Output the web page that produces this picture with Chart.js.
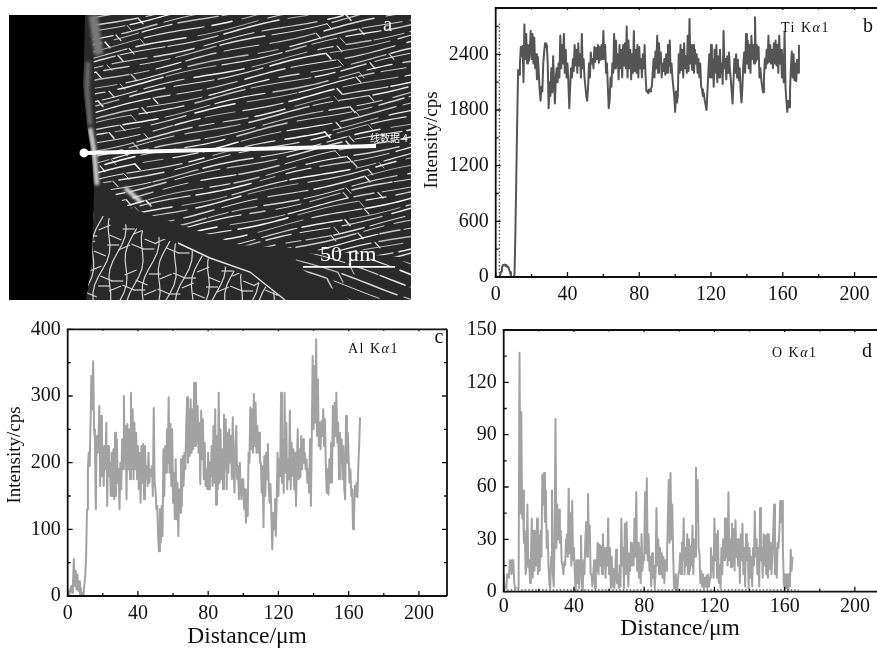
<!DOCTYPE html>
<html>
<head>
<meta charset="utf-8">
<style>
html,body{margin:0;padding:0;background:#fff;width:877px;height:651px;overflow:hidden}
.p{position:absolute}
canvas{display:block}
</style>
<script src="https://cdn.jsdelivr.net/npm/chart.js@4/dist/chart.umd.js"></script>
</head>
<body>
<div class="p" style="left:0;top:0;width:415px;height:310px"><canvas id="ca" width="415" height="310"></canvas></div>
<div class="p" style="left:420px;top:0;width:457px;height:310px"><canvas id="cb" width="457" height="310"></canvas></div>
<div class="p" style="left:0;top:310px;width:450px;height:341px"><canvas id="cc" width="450" height="341"></canvas></div>
<div class="p" style="left:450px;top:310px;width:427px;height:341px"><canvas id="cd" width="427" height="341"></canvas></div>
<script>
// ---------- data (sample step 0.5 um) ----------
const sampleStep = 0.5;
const tiValues = [
0,0,0,0,0,20,60,100,130,125,135,120,130,105,110,80,50,10,0,0,
0,30,500,1100,1700,2230,2180,2300,2480,2380,2490,2100,2720,2350,2620,2300,2500,2330,2450,2650,
2350,2620,2300,2580,2250,2400,2130,2370,2200,2010,1900,2050,2000,2300,2420,2520,2480,2500,2300,1820,
2100,1950,2250,1990,2380,2100,1870,2150,2250,2100,2300,2150,2600,2250,2500,2300,2620,2200,2450,2150,
2300,2100,1820,2050,2250,2150,2350,2220,2500,2280,2450,2200,2520,2280,2400,2150,2620,2250,2350,2150,
2050,1950,1900,2050,2300,2150,2420,2300,2350,2250,2480,2320,2470,2350,2500,2310,2480,2340,2500,2350,
2650,2350,2500,2200,2300,2050,1820,1900,2150,2050,2300,2200,2620,2250,2550,2280,2400,2130,2500,2250,
2450,2150,2500,2280,2520,2250,2700,2150,2550,2250,2450,2130,2400,2200,2650,2220,2450,2200,2500,2150,
2480,2250,2350,2150,2400,2250,2500,2180,2000,2010,1980,2020,2000,2030,2050,2200,2350,2150,2430,2250,
2600,2200,2520,2300,2420,2150,2300,2220,2350,2180,2400,2200,2500,2280,2550,2200,2300,2150,2050,1950,
1780,2000,1880,1950,2400,2200,2500,2230,2450,2150,2520,2250,2380,2200,2600,2220,2780,2300,2500,2230,
2500,2200,2450,2300,2400,2200,2350,2150,2300,2050,2020,1950,1980,1900,1850,1800,2000,2200,2400,2150,
2500,2150,2350,2050,2450,2200,2500,2100,2380,2150,2450,2200,2300,2080,2650,2250,2350,2130,2380,2200,
2420,2250,2130,2000,1870,2100,2350,2200,2400,2150,2340,2120,2250,2000,1880,2050,2300,2420,2200,2620,
2300,2550,2250,2500,2200,2600,2350,2500,2300,2800,2320,2500,2350,2480,2150,2250,2130,2050,1990,2150,
2350,2250,2450,2300,2600,2320,2500,2300,2450,2250,2520,2300,2550,2280,2500,2200,2600,2300,2450,2150,
2400,2100,2640,2050,1900,1780,1900,1830,2000,2250,2430,2150,2400,2120,2300,2110,2340,2200,2500
];
const alValues = [
5,8,3,10,15,5,20,55,15,38,10,32,8,22,3,12,0,4,2,18,
30,60,130,190,215,195,260,330,280,352,250,235,130,240,215,235,285,165,270,180,
225,165,225,190,260,135,225,180,200,150,215,150,220,145,245,150,235,170,190,130,
200,160,235,190,300,200,255,145,258,190,250,175,305,190,280,175,260,190,245,175,
225,160,215,140,225,170,228,145,225,175,195,165,215,170,190,180,195,150,282,170,
160,130,135,90,67,130,80,135,90,220,150,225,185,250,200,298,185,258,165,250,
140,185,115,205,115,170,90,160,125,205,135,210,165,215,190,255,298,200,280,210,
295,215,280,220,320,225,320,230,285,215,260,168,278,205,265,175,230,165,190,160,
215,160,200,180,225,165,255,170,280,137,240,160,305,170,250,175,220,160,272,190,
265,160,245,185,250,200,240,175,268,190,155,225,255,175,195,145,200,160,145,175,
175,130,160,110,150,120,215,200,283,220,280,215,303,225,290,215,255,215,245,200,
200,155,195,103,210,150,215,175,228,160,140,168,120,70,125,100,145,90,140,215,
150,205,180,305,170,235,155,305,185,260,160,205,175,278,160,230,180,220,160,215,
135,195,250,175,220,178,240,190,235,200,215,190,205,170,190,155,235,135,240,360,
250,345,260,385,240,325,225,260,220,262,240,280,225,265,195,155,190,152,205,170,
230,170,285,225,290,240,305,230,260,175,245,200,235,175,225,160,145,270,200,245,
205,170,190,150,160,100,115,165,150,170,148,195,228,268
];
const oValues = [
10,2,2,2,10,10,8,18,18,10,18,18,5,2,2,2,2,2,137,45,
103,42,58,28,35,10,18,50,14,18,5,18,42,8,35,12,35,15,42,10,
32,12,35,20,67,50,68,40,58,25,35,15,5,2,20,58,10,3,30,99,
25,50,30,47,28,35,17,15,10,17,15,30,33,20,59,22,45,15,52,18,
25,10,0,18,5,18,2,18,32,5,0,18,10,30,40,20,56,28,38,10,
10,3,10,18,2,18,12,28,10,27,15,26,10,33,15,25,8,25,15,42,
10,25,2,20,3,13,2,10,24,5,10,2,15,3,42,15,25,2,39,10,
40,15,3,22,12,28,15,27,15,42,20,57,12,28,8,25,5,33,12,20,
18,57,22,65,18,33,12,20,3,22,8,15,2,12,48,15,30,10,25,10,
22,8,20,5,18,12,20,42,64,28,68,30,50,22,2,3,10,0,2,10,
12,22,10,28,18,42,10,25,15,33,10,30,12,26,15,38,10,30,20,71,
40,64,25,22,5,12,3,10,2,8,3,9,2,10,3,8,25,12,20,8,
42,18,33,8,35,5,15,2,25,10,30,18,42,20,42,15,57,18,30,14,
39,15,36,12,41,20,30,15,30,5,33,18,39,10,25,3,33,18,28,2,
25,8,20,3,25,15,46,20,30,10,25,3,48,18,25,8,33,15,32,10,
33,8,33,13,28,10,20,35,50,10,25,8,28,25,35,52,40,52,25,5,
2,10,2,10,0,10,3,24,12,20
];
const distanceTicks = [0,40,80,120,160,200];
const distanceMinor = [20,60,100,140,180];
const tiTicks = [0,600,1200,1800,2400];
const tiMinor = [300,900,1500,2100,2700];
const alTicks = [0,100,200,300,400];
const alMinor = [50,150,250,350];
const oTicks = [0,30,60,90,120,150];
const oMinor = [15,45,75,105,135];
const tiDottedX = [2,2];
const tiDottedY = [0,2750];
const oDottedX = [0,168];
const oDottedY = [1,1];
const probeX = [18.66,91.3];
const probeY = [51.6,54];
const scaleBarX = [73.1,96];
const scaleBarY = [11.6,11.6];

const SERIF = '"Liberation Serif","Times New Roman",serif';
const pts = (xs,ys)=>xs.map((x,i)=>({x,y:ys[i]}));
const seq = v=>v.map((y,i)=>({x:i*sampleStep,y}));

function panelPlugin(c){
  return {
    id:'panel'+c.letter,
    afterDatasetsDraw(chart){
      const {ctx,chartArea:a,scales:{x,y}}=chart;
      ctx.save();
      ctx.strokeStyle='#111'; ctx.lineWidth=1.8; ctx.lineCap='butt';
      ctx.beginPath();
      ctx.moveTo(a.left,a.top); ctx.lineTo(a.left,a.bottom);
      ctx.moveTo(a.left-1,a.bottom); ctx.lineTo(a.right,a.bottom);
      ctx.moveTo(a.left-1,a.top); ctx.lineTo(a.right,a.top);
      if(c.rightEdge){ctx.moveTo(a.right,a.top); ctx.lineTo(a.right,a.bottom);}
      ctx.stroke();
      ctx.lineWidth=1.3; ctx.beginPath();
      const vt=(v,len,top)=>{const p=x.getPixelForValue(v);ctx.moveTo(p,a.bottom);ctx.lineTo(p,a.bottom-len);ctx.moveTo(p,a.top);ctx.lineTo(p,a.top+top);};
      const ht=(v,len)=>{const p=y.getPixelForValue(v);ctx.moveTo(a.left,p);ctx.lineTo(a.left+len,p);if(c.rightEdge){ctx.moveTo(a.right,p);ctx.lineTo(a.right-len,p);}};
      distanceTicks.forEach(v=>vt(v,5,2)); distanceMinor.forEach(v=>vt(v,3,1.5));
      c.yTicks.forEach(v=>ht(v,5)); c.yMinor.forEach(v=>ht(v,3));
      ctx.stroke();
      // element label
      ctx.fillStyle='#111'; ctx.textBaseline='middle'; ctx.textAlign='left';
      ctx.letterSpacing='1.5px';
      let tx=c.labelX;
      c.runs.forEach(([s,it])=>{ctx.font=(it?'italic ':'')+'14px '+SERIF;ctx.fillText(s,tx,c.labelY);tx+=ctx.measureText(s).width;});
      ctx.letterSpacing='0px';
      ctx.font='20px '+SERIF; ctx.textAlign='center';
      ctx.fillText(c.letter,c.letterX,c.letterY);
      // axis titles
      if(c.xTitleAt){
        ctx.font='23.5px '+SERIF;
        ctx.fillText('Distance/\u03bcm',c.xTitleAt[0],c.xTitleAt[1]);
      }
      if(c.yTitleAt){
        ctx.translate(c.yTitleAt[0],c.yTitleAt[1]);ctx.rotate(-Math.PI/2);
        ctx.font='19px '+SERIF;
        ctx.fillText('Intensity/cps',0,0);
      }
      ctx.restore();
    }
  };
}

function lineChart(id,c){
  const datasets=[];
  if(c.dotted) datasets.push({data:pts(c.dotted[0],c.dotted[1]),borderColor:'#222',borderWidth:1,borderDash:[1.5,2],pointRadius:0});
  datasets.push({data:seq(c.values),borderColor:c.color,borderWidth:c.width,pointRadius:0,tension:0,borderJoinStyle:'round'});
  const tickFont={family:SERIF,size:20};
  return new Chart(document.getElementById(id),{
    type:'line',
    data:{datasets},
    plugins:[panelPlugin(c)],
    options:{
      responsive:false,animation:false,normalized:true,
      layout:{autoPadding:false,padding:c.padding},
      plugins:{legend:{display:false},tooltip:{enabled:false},title:{display:false}},
      scales:{
        x:{type:'linear',min:0,max:c.xMax,
          grid:{display:false,drawTicks:false},border:{display:false},
          afterBuildTicks:s=>{s.ticks=distanceTicks.map(value=>({value}));},
          ticks:{autoSkip:false,maxRotation:0,color:'#111',font:tickFont,padding:c.xPad,callback:v=>String(v)},
          afterFit:s=>{s.height=c.axisH;s.paddingLeft=0;s.paddingRight=0;}},
        y:{type:'linear',min:0,max:c.yMax,
          grid:{display:false,drawTicks:false},border:{display:false},
          afterBuildTicks:s=>{s.ticks=c.yTicks.map(value=>({value}));},
          ticks:{autoSkip:false,color:'#111',font:tickFont,padding:7,callback:v=>String(v)},
          afterFit:s=>{s.width=c.axisW;s.paddingTop=0;s.paddingBottom=0;}}
      }
    }
  });
}

// texture of the micrograph (no chart data here)
const micrographPlugin={
  id:'micrograph',
  beforeDatasetsDraw(chart){
    const {ctx,chartArea:a}=chart;
    ctx.save();
    ctx.beginPath();ctx.rect(a.left,a.top,a.right-a.left,a.bottom-a.top);ctx.clip();
    ctx.fillStyle='#2a2a2a';ctx.fillRect(a.left,a.top,a.right-a.left,a.bottom-a.top);
    const poly=p=>{ctx.beginPath();p.forEach((q,i)=>i?ctx.lineTo(q[0],q[1]):ctx.moveTo(q[0],q[1]));ctx.closePath();};
    const grain=(p,x0,slope,dy,k0,k1)=>{
      ctx.save();poly(p);ctx.clip();
      ctx.lineCap='round';
      for(let k=k0;k<k1;k++){
        const yb=15+k*dy+((k*7)%5-2)*0.5;
        let xs=x0+((k*29)%31)-20, j=0;
        while(xs<a.right){
          const len=18+((k*37+j*53)%46), gap=2+((k*11+j*17)%8);
          const lum=185+((k*13+j*29)%71);
          ctx.strokeStyle=`rgb(${lum},${lum},${lum})`;
          ctx.lineWidth=0.9+((k+j)%3)*0.3;
          const yAt=X=>yb+slope*(X-x0)+1.5*Math.sin(X/23+k*0.7);
          ctx.beginPath();
          for(let t=0;t<=len;t+=5){
            const X=xs+t;
            t?ctx.lineTo(X,yAt(X)):ctx.moveTo(X,yAt(X));
          }
          ctx.stroke();
          if((k*5+j*3)%5===0){ // bridge between neighbouring plates
            const X=xs+len;
            ctx.beginPath();ctx.moveTo(X,yAt(X));ctx.lineTo(X+5,yAt(X)+dy*0.9);ctx.stroke();
          }
          xs+=len+gap;j++;
        }
      }
      ctx.restore();
    };
    ctx.filter='blur(0.45px)';
    grain([[92,15],[411,15],[411,258],[290,248],[240,245],[190,228],[130,208],[98,178]],85,-0.22,6.2,0,68);
    grain([[292,252],[411,262],[411,300],[350,300],[300,268]],290,0.33,11,18,28);
    // cellular region at lower left
    ctx.save();
    poly([[92,212],[120,222],[180,245],[262,284],[285,300],[85,300]]);ctx.clip();
    ctx.strokeStyle='rgb(215,215,215)';ctx.lineWidth=1.2;
    for(let i=0;i<18;i++){
      const bx=92+i*12;
      ctx.beginPath();
      for(let t=0;t<=100;t+=8){
        const X=bx-t*0.22+4*Math.sin(t/11+i*1.7),Y=205+t;
        t?ctx.lineTo(X,Y):ctx.moveTo(X,Y);
      }
      ctx.stroke();
      for(let m=0;m<6;m++){
        if((i*3+m*5)%3===0) continue;
        const Y=215+m*14+((i*5+m*7)%11),X=bx-(Y-205)*0.22;
        ctx.beginPath();ctx.moveTo(X,Y);ctx.lineTo(X+12,Y+5-((i+m)%3)*5);ctx.stroke();
      }
    }
    ctx.restore();
    // bright edge of the dark band
    ctx.strokeStyle='rgb(230,230,230)';ctx.lineWidth=1.4;
    ctx.beginPath();ctx.moveTo(178,243);ctx.lineTo(210,258);ctx.lineTo(250,272);ctx.lineTo(285,300);ctx.stroke();
    // sample edge: black side, grey rim
    ctx.filter='blur(1.5px)';
    ctx.strokeStyle='rgb(120,120,120)';ctx.lineWidth=9;
    ctx.beginPath();ctx.moveTo(93,15);ctx.lineTo(99,55);ctx.stroke();
    ctx.strokeStyle='rgb(105,105,105)';ctx.lineWidth=5;
    ctx.beginPath();ctx.moveTo(88,62);ctx.lineTo(87,90);ctx.lineTo(90,125);ctx.stroke();
    ctx.strokeStyle='rgb(215,215,215)';ctx.lineWidth=4.5;
    ctx.beginPath();ctx.moveTo(90,128);ctx.lineTo(94,150);ctx.lineTo(97,185);ctx.stroke();
    ctx.strokeStyle='rgb(235,235,235)';ctx.lineWidth=4;
    ctx.beginPath();ctx.moveTo(125,188);ctx.lineTo(141,202);ctx.stroke();
    ctx.filter='none';
    ctx.fillStyle='#000';
    poly([[9,15],[85,15],[84,60],[83,85],[87,125],[92,160],[94,190],[93,230],[92,260],[86,300],[9,300]]);ctx.fill();
    ctx.restore();
  },
  afterDatasetsDraw(chart){
    const {ctx}=chart;
    ctx.save();
    ctx.textBaseline='middle';ctx.textAlign='left';
    ctx.fillStyle='#fff';
    ctx.font='10px "Noto Sans CJK SC"';ctx.fillText('\u7ebf\u6570\u636e 4',370,138);
    ctx.font='22px '+SERIF;ctx.fillText('50 \u03bcm',320,255);
    ctx.font='21px '+SERIF;ctx.fillStyle='#eee';ctx.fillText('a',383,25);
    ctx.restore();
  }
};

new Chart(document.getElementById('ca'),{
  type:'line',
  data:{datasets:[
    {data:pts(probeX,probeY),borderColor:'#fff',borderWidth:4,pointRadius:[4.5,0],pointBackgroundColor:'#fff',pointBorderWidth:0},
    {data:pts(scaleBarX,scaleBarY),borderColor:'#fff',borderWidth:1.8,pointRadius:0}
  ]},
  plugins:[micrographPlugin],
  options:{responsive:false,animation:false,
    layout:{autoPadding:false,padding:{left:9,top:15,right:4,bottom:10}},
    plugins:{legend:{display:false},tooltip:{enabled:false}},
    scales:{x:{type:'linear',display:false,min:0,max:100},y:{type:'linear',display:false,min:0,max:100}}
  }
});

lineChart('cb',{letter:'b',values:tiValues,color:'#555',width:2,yTicks:tiTicks,yMinor:tiMinor,
  dotted:[tiDottedX,tiDottedY],xMax:212.5,yMax:2899,axisW:75.7,axisH:30,xPad:6,
  yTitleAt:[12,140],
  padding:{left:0,top:8,right:0,bottom:3},runs:[['Ti K',0],['\u03b1',1],['1',0]],labelX:361,labelY:28,letterX:448,letterY:27});
lineChart('cc',{letter:'c',values:alValues,color:'#a2a2a2',width:2,yTicks:alTicks,yMinor:alMinor,rightEdge:true,
  xMax:216,yMax:400,axisW:64.2,axisH:54.8,xPad:6,
  xTitleAt:[247,327],yTitleAt:[15,145],
  padding:{left:3.5,top:19.3,right:3,bottom:0.2},runs:[['Al K',0],['\u03b1',1],['1',0]],labelX:348,labelY:39,letterX:439,letterY:28});
lineChart('cd',{letter:'d',values:oValues,color:'#a2a2a2',width:2,yTicks:oTicks,yMinor:oMinor,
  dotted:[oDottedX,oDottedY],xMax:212.6,yMax:150,axisW:53.7,axisH:51.1,xPad:3,
  xTitleAt:[230,319],
  padding:{left:0,top:20,right:0,bottom:8.2},runs:[['O K',0],['\u03b1',1],['1',0]],labelX:322,labelY:43,letterX:417,letterY:42});
</script>
</body>
</html>
